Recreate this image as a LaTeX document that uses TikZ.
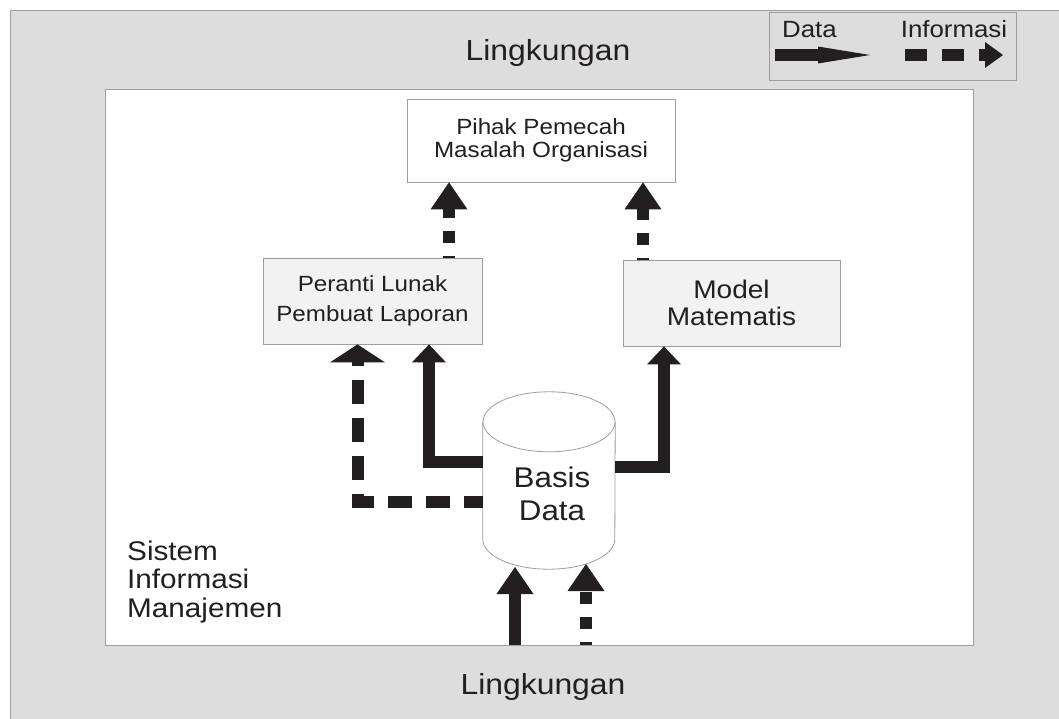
\documentclass[tikz,border=0pt]{standalone}
\usepackage{fontspec}
\setmainfont[FakeStretch=1.1]{Liberation Sans}
\usetikzlibrary{arrows.meta,positioning}

\definecolor{envgray}{RGB}{221,221,221}
\definecolor{frame}{RGB}{158,158,158}
\definecolor{boxfill}{RGB}{242,242,242}
\definecolor{ink}{RGB}{35,31,32}

\tikzset{
  box/.style={draw=frame,fill=boxfill,line width=0.8pt,align=center,inner sep=0pt,text=ink},
  data/.style={draw=ink,line width=12pt,line join=miter,-{Triangle[length=18pt,width=34pt,line width=0pt]}},
  info/.style={data,dash pattern=on 24pt off 14pt},
  bighead/.style={-{Triangle[length=27pt,width=37pt,line width=0pt]}},
  widehead/.style={-{Triangle[length=18pt,width=55pt,line width=0pt]}},
  envtxt/.style={text=ink,inner sep=0pt,font=\fontsize{29}{30}\selectfont},
  legtxt/.style={envtxt,font=\fontsize{23.5}{24}\selectfont}
}

\begin{document}
\begin{tikzpicture}[x=1pt,y=-1pt]
\useasboundingbox (0,0) rectangle (1059,719);
\fill[envgray] (10,10) rectangle (1059,719);
\draw[frame,line width=0.8pt] (10,719) -- (10,10) -- (1059,10);

% legend
\draw[frame,fill=envgray,line width=0.8pt] (769,12) rectangle (1016,80);
\node[legtxt] (legdata) at (809.5,29.5) {Data};
\node[legtxt] (leginfo) at (954,29) {Informasi};
\coordinate (d0) at (775,55);
\coordinate (d1) at (870,55);
\coordinate (i0) at (905,55);
\coordinate (i1) at (1003,55);
\draw[data,-{Triangle[length=52pt,width=17pt,line width=0pt]}] (d0) -- (d1);
\draw[info,dash pattern=on 22pt off 15pt,-{Triangle[length=18pt,width=26pt,line width=0pt]}] (i0) -- (i1);

\node[envtxt] (envtop) at (548,53) {Lingkungan};
\node[envtxt] (envbot) at (543,687) {Lingkungan};

% sistem informasi manajemen
\node[draw=frame,fill=white,line width=0.8pt,minimum width=868pt,minimum height=556pt,inner sep=0pt] (sim) at (539,367) {};
\node[envtxt,align=left,anchor=west,font=\fontsize{27}{28.5}\selectfont] (mis) at (127,582) {Sistem\\Informasi\\Manajemen};

\node[box,fill=white,minimum width=268pt,minimum height=83pt,font=\fontsize{22}{23}\selectfont] (pihak) at (541,140.5) {Pihak Pemecah\\Masalah Organisasi};
\node[box,minimum width=219pt,minimum height=86pt,font=\fontsize{22}{30}\selectfont] (peranti) at (372.5,301) {Peranti Lunak\\Pembuat Laporan};
\node[box,minimum width=217pt,minimum height=86pt,font=\fontsize{25.5}{27}\selectfont] (model) at (731.5,303) {Model\\Matematis};

% basis data
\node[minimum width=132pt,minimum height=117pt,inner sep=0pt] (basis) at (549,480.5) {};
\filldraw[draw=frame,fill=white,line width=0.8pt] (basis.north west) -- (basis.south west)
  arc[start angle=180,end angle=360,x radius=66pt,y radius=30pt] -- (basis.north east);
\filldraw[draw=frame,fill=white,line width=0.8pt] (basis.north) ellipse[x radius=66pt,y radius=30pt];
\node[text=ink,inner sep=0pt,align=center,font=\fontsize{28.5}{33}\selectfont] (basislbl) at (552,493.5) {Basis\\Data};

\draw[data] ([yshift=18.5pt]basis.west) -| ([xshift=56.5pt]peranti.south);
\draw[info,widehead,dash phase=5pt] ([yshift=-21.5pt]basis.west) -| ([xshift=-15pt]peranti.south);
\draw[data] ([yshift=13.5pt]basis.east) -| ([xshift=-67.5pt]model.south);

\draw[info,bighead,dash pattern=on 12pt off 13pt,dash phase=10pt] ([xshift=76.5pt]peranti.north) -- ([xshift=-92pt]pihak.south);
\draw[info,bighead,dash pattern=on 12pt off 13pt,dash phase=10pt] ([xshift=-88.5pt]model.north) -- ([xshift=102pt]pihak.south);

\coordinate (din) at (515,645);
\coordinate (dtip) at (515,567);
\coordinate (iin) at (586,645);
\coordinate (itip) at (586,564);
\draw[data,bighead] (din) -- (dtip);
\draw[info,bighead,dash pattern=on 12pt off 13pt,dash phase=9pt] (iin) -- (itip);
\end{tikzpicture}
\end{document}
